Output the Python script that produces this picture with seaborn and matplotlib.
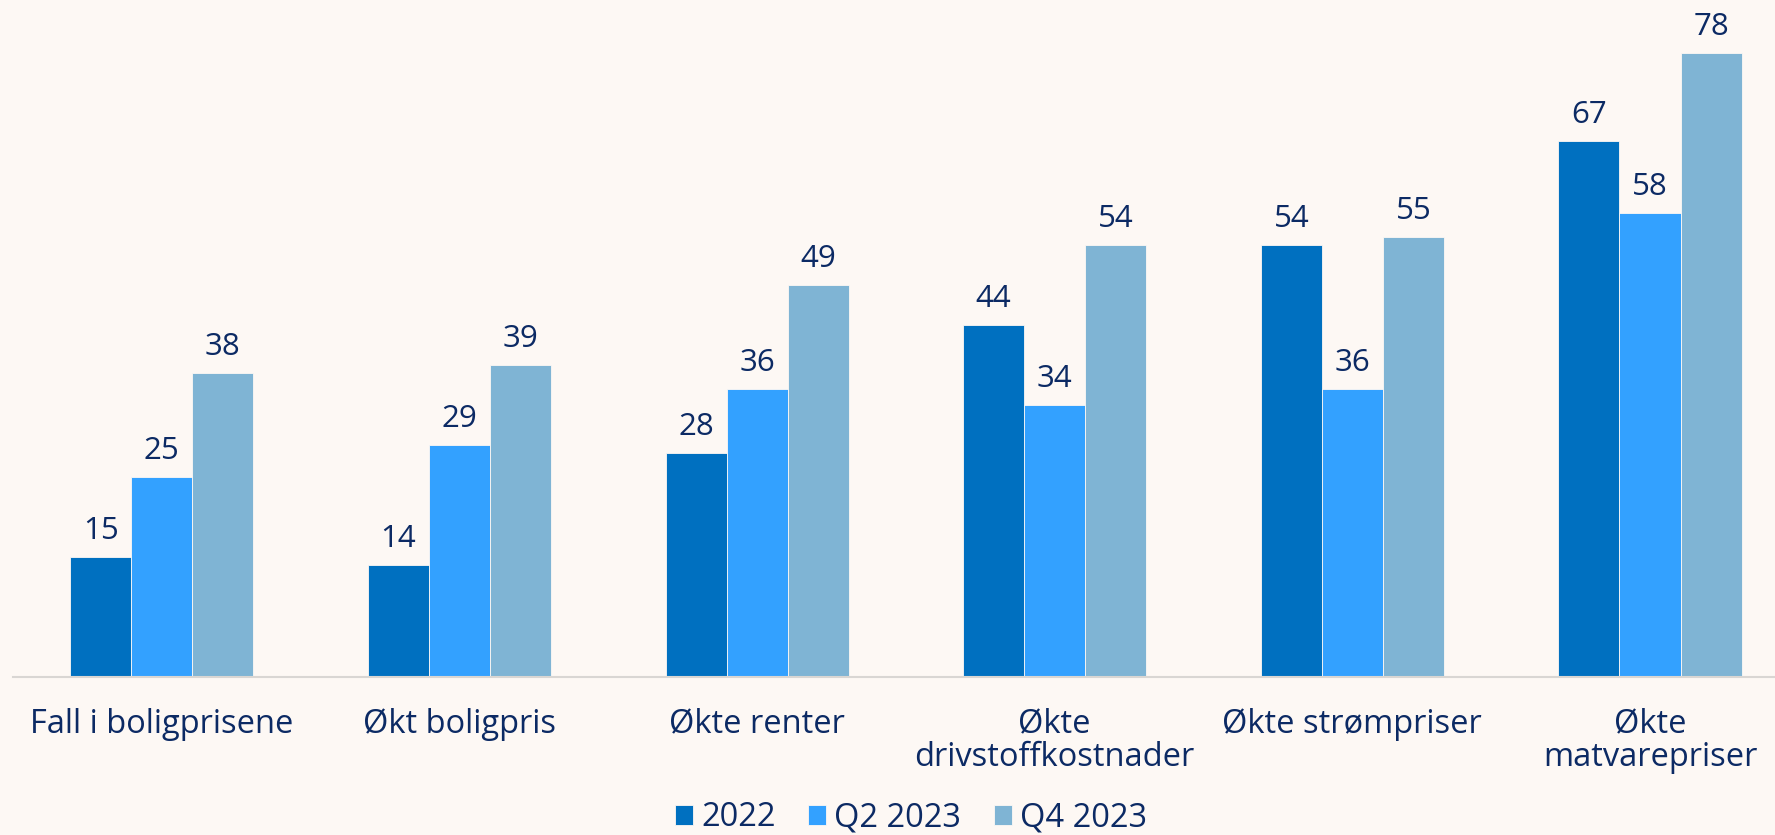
import numpy as np
import pandas as pd
import seaborn as sns
import matplotlib.pyplot as plt

# kategorier og verdier lest av figuren
categories = ["Fall i boligprisene", "Økt boligpris", "Økte renter",
              "Økte\ndrivstoffkostnader", "Økte strømpriser", "Økte\nmatvarepriser"]
series = ["2022", "Q2 2023", "Q4 2023"]
v2022 = [15, 14, 28, 44, 54, 67]
vq2 = [25, 29, 36, 34, 36, 58]
vq4 = [38, 39, 49, 54, 55, 78]

df = pd.DataFrame({
    "kategori": categories * 3,
    "periode": [series[0]] * 6 + [series[1]] * 6 + [series[2]] * 6,
    "verdi": v2022 + vq2 + vq4,
})

bg = "#fdf8f4"
navy = "#0c2a64"
palette = ["#0070c0", "#33a1ff", "#7fb4d4"]

sns.set_style("white")
plt.rcParams["font.family"] = ["Open Sans", "DejaVu Sans"]

fig = plt.figure(figsize=(17.75, 8.35), dpi=100, facecolor=bg)
ax = fig.add_axes([13 / 1775, 158 / 835, 1 - 13 / 1775, 677 / 835])
ax.set_facecolor(bg)

sns.barplot(data=df, x="kategori", y="verdi", hue="periode", palette=palette,
            saturation=1, width=0.615, gap=0, edgecolor=bg, linewidth=0.6,
            ax=ax, legend=True)

for cont in ax.containers:
    ax.bar_label(cont, padding=8, fontsize=22.5, color=navy)

ax.set_ylim(0, 84.6)
ax.set_xlim(-0.5, 5.42)
ax.set_xlabel("")
ax.set_ylabel("")
ax.set_yticks([])
for s in ["top", "right", "left"]:
    ax.spines[s].set_visible(False)
ax.spines["bottom"].set_color("#d9d6d3")
ax.spines["bottom"].set_linewidth(1.5)
ax.tick_params(axis="x", length=0, pad=22, labelsize=23.5, labelcolor=navy)
for t in ax.get_xticklabels():
    t.set_linespacing(1.0)

handles, labels = ax.get_legend_handles_labels()
ax.get_legend().remove()
fig.legend(handles, labels, loc="center", bbox_to_anchor=(911 / 1775, 1 - 818 / 835),
           ncol=3, frameon=False, fontsize=23.5, labelcolor=navy,
           handlelength=0.55, handleheight=0.55, handletextpad=0.25, columnspacing=1.0)

fig.savefig("out.png", dpi=100, facecolor=bg)
